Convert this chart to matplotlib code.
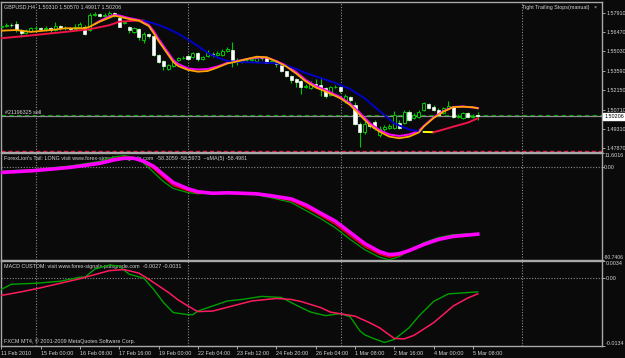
import numpy as np
import matplotlib
matplotlib.use('Agg')
import matplotlib.pyplot as plt
import matplotlib.font_manager as fm

# GBPUSD H4, 98 bars from 11 Feb 2010 20:00 to 5 Mar 2010 12:00
opens = [1.5688, 1.5692, 1.5700, 1.5707, 1.5662, 1.5640, 1.5655, 1.5674, 1.5677, 1.5670,
         1.5677, 1.5662, 1.5692, 1.5677, 1.5674, 1.5670, 1.5685, 1.5685, 1.5662, 1.5774,
         1.5781, 1.5766, 1.5774, 1.5789, 1.5751, 1.5711, 1.5685, 1.5648, 1.5670, 1.5588,
         1.5633, 1.5618, 1.5477, 1.5432, 1.5373, 1.5395, 1.5440, 1.5455, 1.5470, 1.5462,
         1.5488, 1.5447, 1.5470, 1.5484, 1.5477, 1.5477, 1.5510, 1.5514, 1.5440, 1.5432,
         1.5436, 1.5440, 1.5429, 1.5455, 1.5451, 1.5421, 1.5425, 1.5403, 1.5355, 1.5321,
         1.5299, 1.5284, 1.5240, 1.5232, 1.5262, 1.5254, 1.5232, 1.5180, 1.5240, 1.5240,
         1.5132, 1.5165, 1.5106, 1.4968, 1.4902, 1.4965, 1.4980, 1.4883, 1.4928, 1.4935,
         1.4935, 1.4972, 1.4972, 1.5054, 1.5009, 1.5017, 1.5069, 1.5113, 1.5091, 1.5069,
         1.5047, 1.5084, 1.5091, 1.5017, 1.5009, 1.5043, 1.5017, 1.5031]
highs = [1.5707, 1.5714, 1.5714, 1.5729, 1.5670, 1.5670, 1.5685, 1.5692, 1.5685, 1.5692,
         1.5685, 1.5722, 1.5700, 1.5692, 1.5685, 1.5707, 1.5722, 1.5700, 1.5791, 1.5796,
         1.5789, 1.5785, 1.5803, 1.5796, 1.5766, 1.5729, 1.5692, 1.5685, 1.5677, 1.5648,
         1.5640, 1.5625, 1.5484, 1.5440, 1.5410, 1.5432, 1.5462, 1.5470, 1.5477, 1.5499,
         1.5499, 1.5470, 1.5514, 1.5499, 1.5507, 1.5521, 1.5536, 1.5573, 1.5455, 1.5447,
         1.5455, 1.5462, 1.5466, 1.5462, 1.5458, 1.5440, 1.5432, 1.5410, 1.5358, 1.5329,
         1.5306, 1.5291, 1.5262, 1.5284, 1.5299, 1.5314, 1.5240, 1.5247, 1.5254, 1.5247,
         1.5188, 1.5173, 1.5128, 1.4980, 1.4987, 1.4980, 1.4995, 1.4950, 1.4957, 1.4965,
         1.5061, 1.4995, 1.5069, 1.5069, 1.5047, 1.5069, 1.5128, 1.5121, 1.5106, 1.5084,
         1.5091, 1.5136, 1.5098, 1.5039, 1.5054, 1.5054, 1.5039, 1.5057]
lows = [1.5677, 1.5685, 1.5685, 1.5648, 1.5610, 1.5633, 1.5648, 1.5662, 1.5655, 1.5655,
        1.5640, 1.5655, 1.5662, 1.5662, 1.5655, 1.5662, 1.5677, 1.5625, 1.5655, 1.5766,
        1.5759, 1.5759, 1.5766, 1.5759, 1.5681, 1.5707, 1.5640, 1.5640, 1.5588, 1.5566,
        1.5603, 1.5470, 1.5418, 1.5366, 1.5366, 1.5388, 1.5432, 1.5447, 1.5440, 1.5455,
        1.5432, 1.5440, 1.5462, 1.5462, 1.5470, 1.5470, 1.5499, 1.5388, 1.5403, 1.5418,
        1.5425, 1.5432, 1.5425, 1.5440, 1.5418, 1.5414, 1.5388, 1.5351, 1.5314, 1.5269,
        1.5240, 1.5188, 1.5232, 1.5225, 1.5232, 1.5173, 1.5158, 1.5173, 1.5232, 1.5195,
        1.5121, 1.5128, 1.4957, 1.4794, 1.4891, 1.4935, 1.4920, 1.4869, 1.4913, 1.4928,
        1.4928, 1.4928, 1.4965, 1.4987, 1.5002, 1.5009, 1.5061, 1.5076, 1.5061, 1.5024,
        1.5039, 1.5076, 1.5009, 1.5009, 1.5002, 1.5009, 1.5006, 1.49917]
closes = [1.5692, 1.5700, 1.5696, 1.5662, 1.5640, 1.5655, 1.5674, 1.5677, 1.5670, 1.5677,
          1.5662, 1.5692, 1.5677, 1.5674, 1.5670, 1.5685, 1.5707, 1.5636, 1.5774, 1.5781,
          1.5763, 1.5774, 1.5792, 1.5770, 1.5688, 1.5722, 1.5662, 1.5674, 1.5610, 1.5636,
          1.5618, 1.5477, 1.5425, 1.5395, 1.5403, 1.5425, 1.5455, 1.5458, 1.5447, 1.5488,
          1.5447, 1.5462, 1.5492, 1.5477, 1.5492, 1.5510, 1.5521, 1.5440, 1.5432, 1.5436,
          1.5440, 1.5447, 1.5458, 1.5451, 1.5421, 1.5432, 1.5410, 1.5358, 1.5321, 1.5291,
          1.5277, 1.5240, 1.5247, 1.5269, 1.5254, 1.5232, 1.5169, 1.5236, 1.5243, 1.5210,
          1.5176, 1.5143, 1.4965, 1.4906, 1.4968, 1.4950, 1.4935, 1.4931, 1.4943, 1.4950,
          1.5028, 1.4935, 1.5054, 1.4995, 1.5028, 1.5054, 1.5117, 1.5084, 1.5069, 1.5032,
          1.5080, 1.5098, 1.5017, 1.5024, 1.5043, 1.5017, 1.5024, 1.50206]

# moving averages on the price chart (bar index, value)
fast_idx = [0, 3, 6, 10, 13, 17, 18, 20, 22, 23, 24, 26, 28, 30, 31, 32, 34, 35, 36, 38,
            40, 42, 44, 46, 48, 50, 52, 54, 56, 58, 60, 62, 64, 66, 69, 71, 73, 75, 77, 79,
            81, 83, 85, 86, 88, 90, 92, 94, 96, 97]
fast_ma = [1.5657, 1.5662, 1.5648, 1.5662, 1.5675, 1.5675, 1.5687, 1.5724, 1.5754, 1.5769,
           1.5761, 1.5744, 1.5731, 1.5692, 1.5640, 1.5581, 1.5477, 1.5425, 1.5395, 1.5366,
           1.5353, 1.5358, 1.5384, 1.5414, 1.5429, 1.5447, 1.5464, 1.5460, 1.5429, 1.5392,
           1.5340, 1.5280, 1.5236, 1.5206, 1.5156, 1.5106, 1.5032, 1.4957, 1.4908, 1.4871,
           1.4859, 1.4871, 1.4902, 1.4946, 1.5009, 1.5056, 1.5090, 1.5093, 1.5089, 1.5081]
mag_idx = [19, 20, 22, 23, 24, 26, 28, 30, 31, 32, 34, 35, 36, 38, 40, 42, 44, 46, 48, 50,
           52, 54, 56, 58, 60, 62, 64, 66, 69, 71, 73, 75, 77, 79, 81, 83, 85, 86, 88, 90,
           92, 94, 96, 97]
mag_ma = [1.5707, 1.5729, 1.5763, 1.5774, 1.5770, 1.5751, 1.5737, 1.5700, 1.5655, 1.5596,
          1.5492, 1.5440, 1.5410, 1.5377, 1.5369, 1.5373, 1.5392, 1.5418, 1.5432, 1.5447,
          1.5458, 1.5458, 1.5432, 1.5399, 1.5351, 1.5291, 1.5247, 1.5217, 1.5165, 1.5117,
          1.5047, 1.4972, 1.4920, 1.4887, 1.4876, 1.4887, 1.4913, 1.4950, 1.5013, 1.5061,
          1.5091, 1.5095, 1.5087, 1.5084]
slow_rise_idx = [0, 6, 13, 18, 22, 24, 27, 29]
slow_rise = [1.5601, 1.5622, 1.5648, 1.5668, 1.5698, 1.5724, 1.5731, 1.5733]
slow_fall_idx = [29, 32, 34, 36, 38, 40, 42, 44, 46, 48, 50, 53, 56, 59, 62, 65, 68, 71,
                 74, 77, 80, 83, 86]
slow_fall = [1.5733, 1.5700, 1.5670, 1.5635, 1.5591, 1.5544, 1.5492, 1.5458, 1.5432, 1.5425,
             1.5423, 1.5420, 1.5415, 1.5388, 1.5343, 1.5306, 1.5269, 1.5225, 1.5154, 1.5061,
             1.4969, 1.4924, 1.4906]
slow_flat_idx = [86, 88]
slow_flat = [1.4906, 1.4904]
slow_rise2_idx = [88, 89, 92, 95, 97]
slow_rise2 = [1.4904, 1.4913, 1.4945, 1.4975, 1.5007]

order_price = 1.5035
bid_price = 1.50206
stop_price = 1.4767
price_ticks = [1.57910, 1.56470, 1.55030, 1.53590, 1.52150, 1.50710, 1.49310, 1.47870]

# ForexLion's Tail
tail_idx = [0, 7, 14, 20, 23, 25, 27, 29, 31, 33, 35, 38, 40, 43, 46, 49, 52, 55, 59, 62,
            65, 68, 71, 74, 77, 79, 81, 83, 86, 89, 92, 95, 97]
tail_fast = [-4.0, -2.5, 0.5, 4.5, 8.5, 9.5, 8.0, 3.0, -5.0, -13.0, -19.0, -22.5, -23.5,
             -23.0, -22.0, -23.5, -24.5, -27.0, -31.0, -38.0, -45.0, -53.0, -63.0, -72.0,
             -78.5, -80.7, -78.0, -73.0, -66.0, -61.5, -59.0, -58.3, -58.3]
tail_slow = [-4.6, -3.0, -0.2, 3.5, 7.0, 8.3, 7.8, 4.0, -2.0, -9.5, -16.5, -21.0, -23.0,
             -23.3, -22.5, -23.3, -24.0, -26.0, -29.5, -35.5, -42.5, -50.0, -60.0, -69.5,
             -76.0, -78.5, -77.0, -73.5, -67.0, -62.5, -60.0, -59.0, -58.6]
tail_sma = [-5.1, -3.4, -0.7, 2.8, 5.9, 7.2, 7.2, 4.6, 0.2, -6.9, -13.9, -19.2, -21.8,
            -23.1, -22.7, -23.1, -23.6, -25.3, -28.0, -33.2, -40.3, -47.3, -57.0, -66.7,
            -73.7, -76.3, -75.5, -72.8, -67.5, -63.1, -60.5, -59.3, -58.5]
tail_max, tail_min = 11.6016, -80.7406

# MACD custom
macd_idx = [0, 2, 7, 12, 16, 17, 19, 22, 24, 26, 29, 31, 33, 35, 38, 39, 40, 46, 49, 53,
            57, 61, 63, 66, 69, 71, 73, 74, 76, 78, 80, 83, 85, 88, 91, 94, 97]
macd_main = [-0.0022, -0.0012, -0.0010, -0.0006, 0.0002, 0.0002, 0.0018, 0.0026, 0.0024,
             0.0008, 0.0, -0.0022, -0.0048, -0.0068, -0.0072, -0.0072, -0.0065, -0.0045,
             -0.0042, -0.0036, -0.0038, -0.0058, -0.0067, -0.0074, -0.0070, -0.0076,
             -0.0104, -0.0112, -0.0120, -0.0127, -0.0121, -0.0098, -0.0075, -0.0046,
             -0.0031, -0.0029, -0.0027]
signal_idx = [0, 4, 8, 12, 16, 19, 22, 25, 28, 30, 32, 34, 36, 38, 40, 43, 47, 51, 56, 59,
              61, 65, 67, 72, 75, 77, 80, 82, 84, 88, 92, 95, 97]
macd_signal = [-0.0034, -0.0027, -0.0019, -0.0010, -0.0001, 0.0007, 0.0015, 0.0017, 0.0010,
               -0.0002, -0.0015, -0.0028, -0.0043, -0.0055, -0.0066, -0.0065, -0.0055,
               -0.0045, -0.0040, -0.0042, -0.0046, -0.0058, -0.0067, -0.0075, -0.0088,
               -0.0098, -0.0119, -0.0120, -0.0113, -0.0088, -0.0055, -0.0039, -0.0031]
macd_max, macd_min = 0.0034, -0.0134

time_labels = ['11 Feb 2010', '15 Feb 00:00', '16 Feb 08:00', '17 Feb 16:00', '19 Feb 00:00',
               '22 Feb 04:00', '23 Feb 12:00', '24 Feb 20:00', '26 Feb 04:00', '1 Mar 08:00',
               '2 Mar 16:00', '4 Mar 00:00', '5 Mar 08:00']

BG = '#0a0a0a'
BORDER = '#a8a8a8'
TXT = '#d4d4d4'
CANDLE = '#00c800'

# the terminal font is very narrow: use a narrow face if there is one
names = {f.name for f in fm.fontManager.ttflist}
if 'Liberation Sans Narrow' in names:
    FAMILY, FS = 'Liberation Sans Narrow', 4.7
else:
    FAMILY, FS = 'Liberation Sans', 3.9
plt.rcParams['font.family'] = [FAMILY, 'DejaVu Sans']
plt.rcParams['axes.unicode_minus'] = False

W, H = 625, 358
fig = plt.figure(figsize=(W / 100, H / 100), dpi=100, facecolor=BG)


def pane(y0, y1):
    ax = fig.add_axes([1 / W, 1 - y1 / H, 601 / W, (y1 - y0) / H], facecolor=BG)
    ax.set_xlim(-0.08, 122.3)
    for s in ax.spines.values():
        s.set_color(BORDER)
        s.set_linewidth(1.0)
    ax.yaxis.tick_right()
    ax.tick_params(axis='y', colors=BORDER, labelcolor=TXT, length=2, width=0.7,
                   pad=1.0, labelsize=FS)
    ax.tick_params(axis='x', bottom=False, labelbottom=False)
    for g in [7.05, 38.0, 69.2, 106.1]:
        ax.axvline(g, color='#8a8a8a', lw=0.8, ls=(0, (1, 1.5)), zorder=1)
    return ax


def label(ax, xp, yp, s, **kw):
    ax.text(xp / W, 1 - yp / H, s, transform=fig.transFigure, color=TXT, fontsize=FS,
            va='center', zorder=1, **kw)


ax1 = pane(2, 152)
ax2 = pane(153.2, 259.8)
ax3 = pane(261, 346)

# price chart
x = np.arange(len(opens))
o, hi, lo, c = map(np.array, (opens, highs, lows, closes))
up = c >= o
ax1.vlines(x, lo, hi, color=CANDLE, lw=0.8, zorder=2)
bot = np.minimum(o, c)
hgt = np.abs(c - o)
ax1.bar(x[up], hgt[up], 0.62, bottom=bot[up], color=BG, edgecolor=CANDLE, lw=0.7, zorder=3)
ax1.bar(x[~up], hgt[~up], 0.62, bottom=bot[~up], color='white', edgecolor='#e8ffe8',
        lw=0.5, zorder=3)

ax1.plot(mag_idx, mag_ma, color='#ff00ff', lw=1.4, zorder=4)
ax1.plot(fast_idx, fast_ma, color='#ffa500', lw=1.3, zorder=5)
ax1.plot(slow_rise_idx, slow_rise, color='#f01448', lw=1.4, zorder=4)
ax1.plot(slow_fall_idx, slow_fall, color='#0000c8', lw=1.4, zorder=4)
ax1.plot(slow_flat_idx, slow_flat, color='#ffff00', lw=1.4, zorder=4)
ax1.plot(slow_rise2_idx, slow_rise2, color='#f01448', lw=1.4, zorder=4)

ax1.axhline(order_price, color='#00a000', lw=0.8, ls=(0, (4, 3)), zorder=1)
ax1.axhline(bid_price, color='#8c8c8c', lw=0.9, zorder=1)
ax1.axhline(stop_price, color='#e01040', lw=1.0, ls=(0, (3, 2)), zorder=1)

ax1.set_ylim(1.4757, 1.5870)
ax1.set_yticks(price_ticks)
ax1.set_yticklabels([f'{v:.5f}' for v in price_ticks])
ax1.annotate(f'{bid_price:.5f}', xy=(1.0, bid_price), xycoords=('axes fraction', 'data'),
             xytext=(2.0, 0), textcoords='offset points', ha='left', va='center',
             fontsize=FS, color='black', annotation_clip=False,
             bbox=dict(boxstyle='square,pad=0.25', fc='white', ec='white'))

# ForexLion's Tail pane
ax2.axhline(0, color='#8a8a8a', lw=0.8, ls=(0, (1, 1.5)), zorder=1)
ax2.plot(tail_idx, tail_fast, color='#00a000', lw=0.9, zorder=3)
ax2.plot(tail_idx, tail_slow, color='#ff0000', lw=0.9, zorder=3)
ax2.plot(tail_idx, tail_sma, color='#ff00ff', lw=2.6, zorder=4)
ax2.set_ylim(tail_min, tail_max)
ax2.set_yticks([tail_max, 0, tail_min])
ax2.set_yticklabels([f'{tail_max:.4f}', '0.00', f'{tail_min:.4f}'])
ax2.tick_params(axis='y', length=1.2, pad=0.4)

# MACD pane
ax3.axhline(0, color='#8a8a8a', lw=0.8, ls=(0, (1, 1.5)), zorder=1)
ax3.plot(macd_idx, macd_main, color='#00a000', lw=1.0, zorder=3)
ax3.plot(signal_idx, macd_signal, color='#ff1a5e', lw=1.1, zorder=4)
ax3.set_ylim(macd_min, macd_max)
ax3.set_yticks([macd_max, 0, macd_min])
ax3.set_yticklabels([f'{macd_max:.4f}', '0.00', f'{macd_min:.4f}'])

for ax in (ax2, ax3):
    tl = ax.get_yticklabels()
    tl[0].set_va('top')
    tl[-1].set_va('bottom')
ax2.get_yticklabels()[-1].set_fontsize(3.6)

ax3.set_xticks(range(0, 97, 8))
ax3.set_xticklabels(time_labels)
ax3.tick_params(axis='x', bottom=True, labelbottom=True, colors=BORDER, labelcolor=TXT,
                length=2.5, width=0.7, pad=1.0, labelsize=FS)
for t in ax3.get_xticklabels():
    t.set_ha('left')

label(ax1, 4, 6.5, 'GBPUSD,H4  1.50310 1.50570 1.49917 1.50206')
label(ax1, 590, 7, 'Tight Trailing Stops(manual)', ha='right')
label(ax1, 594, 7, '×', ha='left')
label(ax1, 5, 112, '#21196325 sell')
label(ax2, 4, 158.5, "ForexLion's Tail: LONG visit www.forex-signals-pulsgrade.com  "
      "-58.3059 -58.5973  ~sMA(5) -58.4981")
label(ax3, 4, 266.5, 'MACD CUSTOM: visit www.forex-signals-pulsgrade.com  -0.0027 -0.0031')
label(ax3, 4, 341, 'FXCM MT4, © 2001-2009 MetaQuotes Software Corp.')

fig.savefig('out.png', dpi=100, facecolor=BG)
